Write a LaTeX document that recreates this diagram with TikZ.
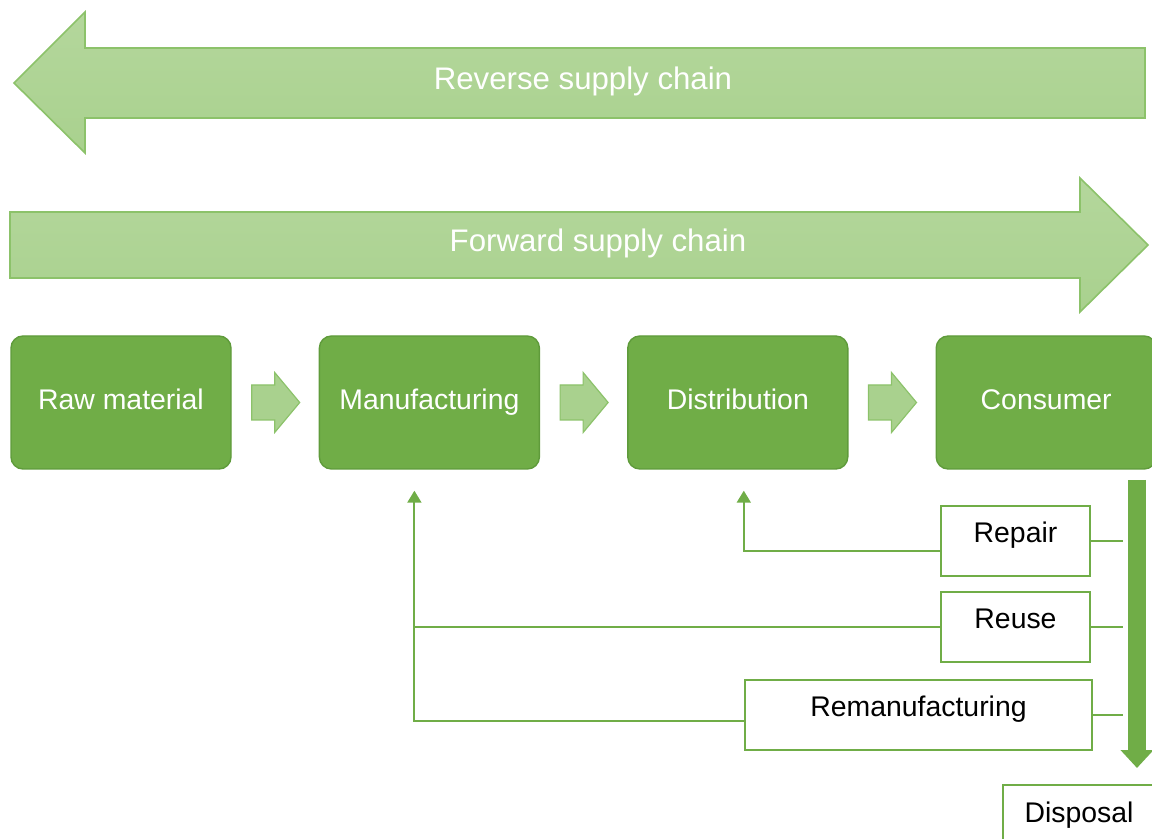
\documentclass[tikz,border=0pt]{standalone}
\usepackage{fontspec}
\setmainfont{Liberation Sans}
\usetikzlibrary{arrows.meta,positioning,calc}
\definecolor{leaf}{HTML}{70AD47}
\definecolor{leafedge}{HTML}{5F9B3B}
\definecolor{pale}{HTML}{A9D18E}
\definecolor{palehi}{HTML}{B4D79C}
\definecolor{paleedge}{HTML}{8CC26A}

\begin{document}
\begin{tikzpicture}[x=0.5pt,y=-0.5pt,>=Latex,node distance=43.5pt,
 stage/.style={draw=leafedge,fill=leaf,rounded corners=6pt,line width=0.7pt,
   minimum width=110pt,minimum height=66.5pt,text=white,
   text height=10pt,text depth=3pt,font=\fontsize{14.2}{17}\selectfont},
 option/.style={draw=leaf,fill=white,line width=1pt,minimum width=74.5pt,
   minimum height=35pt,text height=10pt,text depth=8pt,
   font=\fontsize{14.2}{17}\selectfont},
 band/.style={draw=paleedge,line width=0.8pt,top color=palehi,bottom color=pale},
 bandtext/.style={text=white,font=\fontsize{15.6}{18}\selectfont},
 hop/.style={draw=paleedge,fill=pale,line width=0.6pt},
 link/.style={draw=leaf,line width=1pt},
 back/.style={link,-{Triangle[width=7pt,length=6pt]}}]
\useasboundingbox (0,0) rectangle (1152,839);

% reverse and forward chain bands
\path[band] (14,83) -- (85,12) -- (85,48) -- (1145,48) -- (1145,118)
  -- (85,118) -- (85,153) -- cycle;
\node[bandtext] (rev) at (583,81) {Reverse supply chain};
\path[band] (10,212) -- (1080,212) -- (1080,178) -- (1148,245)
  -- (1080,312) -- (1080,278) -- (10,278) -- cycle;
\node[bandtext] (fwd) at (598,243) {Forward supply chain};

% main stages
\node[stage] (raw) at (121,402.5) {Raw material};
\node[stage,right=of raw] (make) {Manufacturing};
\node[stage,right=of make] (dist) {Distribution};
\node[stage,right=of dist] (cons) {Consumer};
\foreach \a/\b in {raw/make,make/dist,dist/cons}
  \path[hop] ($(\a.east)!0.5!(\b.west)$) ++(-23.5,-17.5) -- ++(23,0)
    -- ++(0,-12.5) -- ++(25,30) -- ++(-25,30) -- ++(0,-12.5)
    -- ++(-23,0) -- cycle;

% end of life options
\node[option] (repair) at (1015.5,541) {Repair};
\node[option] (reuse) at (1015.5,627) {Reuse};
\node[option,minimum width=173.5pt] (reman) at (918.5,714.5) {Remanufacturing};
\node[option,minimum width=76pt,anchor=north west] (disp) at (1002,784) {Disposal};

% drop towards disposal
\coordinate (dtop) at (1137,480);
\coordinate (dend) at (1137,768);
\coordinate (spine) at (1123,480);
\draw[draw=leaf,line width=9pt,-{Triangle[width=16pt,length=9pt]}] (dtop) -- (dend);
\foreach \n in {repair,reuse,reman}
  \draw[link] (\n.east) -- (\n.east -| spine);

% loops back into the chain
\coordinate (dsin) at ($(dist.south)+(6,21)$);
\coordinate (mkin) at ($(make.south)+(-15,21)$);
\draw[back] ([yshift=-5pt]repair.west) -| (dsin);
\draw[back] (reuse.west) -| (mkin);
\draw[link] ([yshift=-3pt]reman.west) -| (mkin |- reuse.west);
\end{tikzpicture}
\end{document}
